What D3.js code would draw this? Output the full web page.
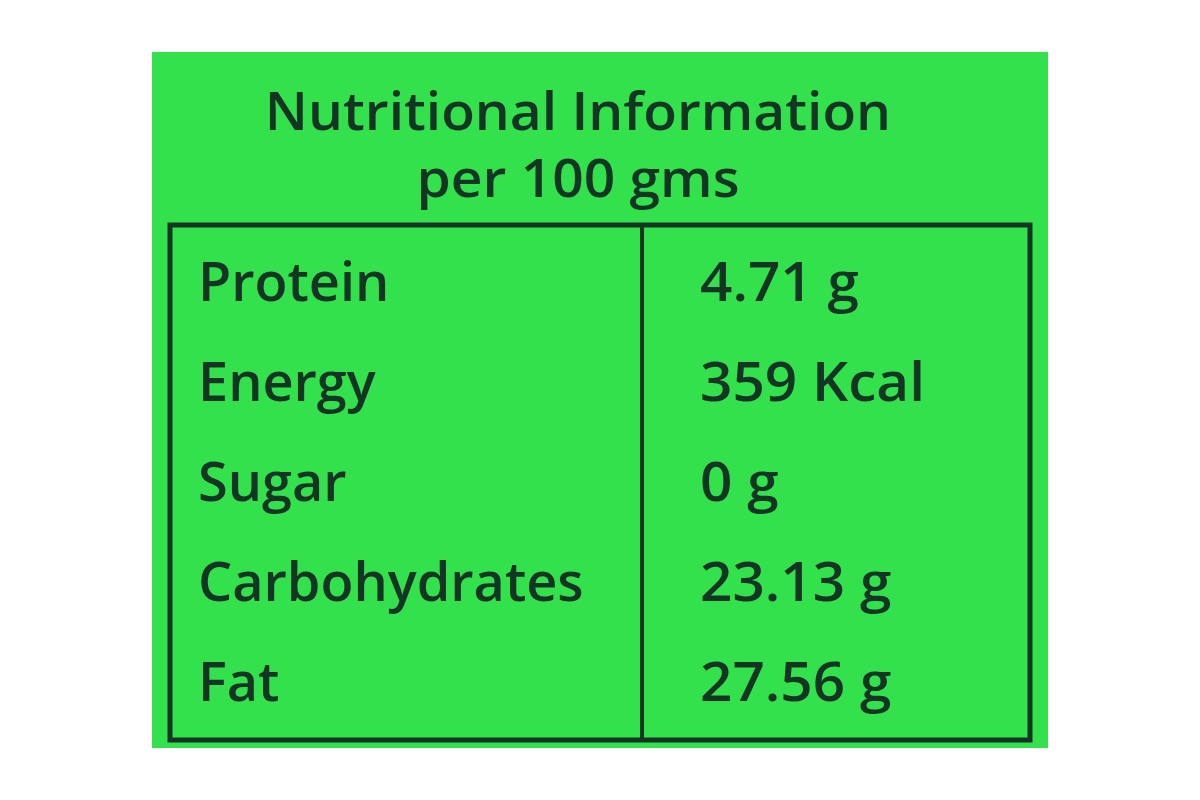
<!DOCTYPE html>
<html><head><meta charset="utf-8">
<script src="https://cdn.jsdelivr.net/npm/d3@7"></script>
<style>body{margin:0;background:#fff}</style>
</head><body>
<script>
const titleLines = ["Nutritional Information", "per 100 gms"];
const nutrients = ["Protein", "Energy", "Sugar", "Carbohydrates", "Fat"];
const amounts = ["4.71 g", "359 Kcal", "0 g", "23.13 g", "27.56 g"];

const W = 1200, H = 800;
const svg = d3.select("body").append("svg").attr("width", W).attr("height", H);
const ink = "#143524";
const font = "'Open Sans', sans-serif";

svg.append("rect").attr("x", 152).attr("y", 52).attr("width", 896).attr("height", 696).attr("fill", "#33e14d");

function condense(sel, k) {
  sel.each(function() {
    const w = this.getComputedTextLength();
    d3.select(this).attr("textLength", w * k).attr("lengthAdjust", "spacingAndGlyphs");
  });
}

const ty = d3.scalePoint().domain(titleLines).range([130, 197]);
svg.selectAll("text.title").data(titleLines).join("text")
  .attr("x", 578).attr("y", d => ty(d)).attr("text-anchor", "middle")
  .attr("font-family", font).attr("font-size", 52).attr("font-weight", 600).attr("fill", ink)
  .text(d => d).call(condense, 1.06);

const box = {x0: 170, x1: 1030, y0: 225, y1: 740, mid: 642};
svg.append("rect").attr("x", box.x0).attr("y", box.y0).attr("width", box.x1 - box.x0).attr("height", box.y1 - box.y0)
  .attr("fill", "none").attr("stroke", ink).attr("stroke-width", 5);
svg.append("line").attr("x1", box.mid).attr("x2", box.mid).attr("y1", box.y0).attr("y2", box.y1)
  .attr("stroke", ink).attr("stroke-width", 4);

const y = d3.scaleBand().domain(nutrients).range([235, 735]);
const rows = svg.selectAll("g.row").data(nutrients).join("g");
rows.append("text").attr("x", 198).attr("y", d => y(d) + y.bandwidth() / 2 + 16)
  .attr("font-family", font).attr("font-size", 54).attr("font-weight", 600).attr("fill", ink)
  .text(d => d).call(condense, 1.0);
rows.append("text").attr("x", 700).attr("y", d => y(d) + y.bandwidth() / 2 + 16)
  .attr("font-family", font).attr("font-size", 54).attr("font-weight", 600).attr("fill", ink)
  .text((d, i) => amounts[i]).call(condense, 1.05);
</script>
</body></html>
